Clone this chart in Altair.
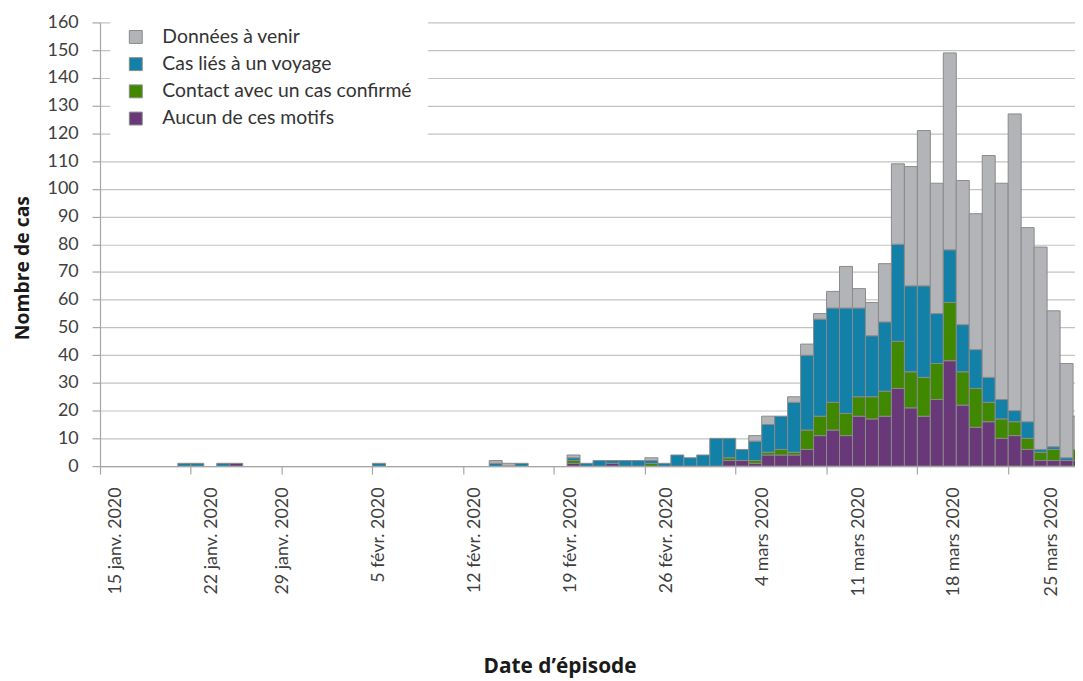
import altair as alt
import pandas as pd

# ---------------- data ----------------
START_DATE = "2020-01-15"
N_DAYS = 76

SERIES = ["Données à venir", "Cas liés à un voyage",
          "Contact avec un cas confirmé", "Aucun de ces motifs"]

AUCUN = [0, 0, 0, 0, 0, 0, 0, 0, 0, 0,
         1, 0, 0, 0, 0, 0, 0, 0, 0, 0,
         0, 0, 0, 0, 0, 0, 0, 0, 0, 0,
         0, 0, 0, 0, 0, 0, 1, 0, 0, 1,
         0, 0, 0, 0, 0, 0, 0, 0, 2, 2,
         1, 4, 4, 4, 6, 11, 13, 11, 18, 17,
         18, 28, 21, 18, 24, 38, 22, 14, 16, 10,
         11, 6, 2, 2, 2, 2]

CONTACT = [0, 0, 0, 0, 0, 0, 0, 0, 0, 0,
           0, 0, 0, 0, 0, 0, 0, 0, 0, 0,
           0, 0, 0, 0, 0, 0, 0, 0, 0, 0,
           0, 0, 0, 0, 0, 0, 1, 0, 0, 0,
           0, 0, 1, 0, 0, 0, 0, 0, 1, 0,
           1, 1, 2, 1, 7, 7, 10, 8, 7, 8,
           9, 17, 13, 14, 13, 21, 12, 14, 7, 7,
           5, 4, 3, 4, 0, 4]

VOYAGE = [0, 0, 0, 0, 0, 0, 1, 1, 0, 1,
          0, 0, 0, 0, 0, 0, 0, 0, 0, 0,
          0, 1, 0, 0, 0, 0, 0, 0, 0, 0,
          1, 0, 1, 0, 0, 0, 1, 1, 2, 1,
          2, 2, 1, 1, 4, 3, 4, 10, 7, 4,
          7, 10, 12, 18, 27, 35, 34, 38, 32, 22,
          25, 35, 31, 33, 18, 19, 17, 14, 9, 7,
          4, 6, 1, 1, 1, 0]

A_VENIR = [0, 0, 0, 0, 0, 0, 0, 0, 0, 0,
           0, 0, 0, 0, 0, 0, 0, 0, 0, 0,
           0, 0, 0, 0, 0, 0, 0, 0, 0, 0,
           1, 1, 0, 0, 0, 0, 1, 0, 0, 0,
           0, 0, 1, 0, 0, 0, 0, 0, 0, 0,
           2, 3, 0, 2, 4, 2, 6, 15, 7, 12,
           21, 29, 43, 56, 47, 71, 52, 49, 80, 78,
           107, 70, 73, 49, 34, 12]

TICK_DAYS = [0, 7, 14, 21, 28, 35, 42, 49, 56, 63, 70]
TICK_LABELS = ["15 janv. 2020", "22 janv. 2020", "29 janv. 2020",
               "5 févr. 2020", "12 févr. 2020", "19 févr. 2020",
               "26 févr. 2020", "4 mars 2020", "11 mars 2020",
               "18 mars 2020", "25 mars 2020"]

# ---------------- layout / style ----------------
COLORS = ["#b3b4b8", "#1380a8", "#3f8800", "#683878"]
STROKE = "#8a8a8a"
FONT = "Lato"
TITLE_FONT = "Open Sans"
# where the (independently placed) date labels sit, in day units
LABEL_POS = [1.22, 8.62, 14.1, 21.5, 28.87, 36.29, 43.66, 51.03, 58.45, 65.75, 73.32]

dates = pd.date_range(START_DATE, periods=N_DAYS, freq="D")
stack_lists = [AUCUN, CONTACT, VOYAGE, A_VENIR]
stack_names = [SERIES[3], SERIES[2], SERIES[1], SERIES[0]]
rows = []
for i in range(N_DAYS):
    for k, (name, vals) in enumerate(zip(stack_names, stack_lists)):
        if vals[i] > 0:
            rows.append({"date": dates[i].strftime("%Y-%m-%d"), "day": i,
                         "day_end": i + 1, "serie": name, "cas": vals[i], "ord": k})
df = pd.DataFrame(rows)

x_scale = alt.Scale(domain=[0, 75.15], nice=False, zero=False)

label_expr = ("[" + ",".join('"%s"' % t for t in TICK_LABELS) + "][indexof(["
              + ",".join(str(p) for p in LABEL_POS) + "], datum.value)]")

bars = alt.Chart(df).transform_stack(
    stack="cas", groupby=["day"], sort=[alt.SortField("ord", order="ascending")],
    as_=["y0", "y1"]
).mark_bar(stroke=STROKE, strokeWidth=1, clip=True).encode(
    x=alt.X("day:Q", scale=x_scale,
            axis=alt.Axis(orient="bottom", values=TICK_DAYS, labels=False, ticks=True,
                          tickSize=8, tickColor="#a6a6a6", tickWidth=1.2,
                          domain=True, domainColor="#a6a6a6", domainWidth=1.2,
                          grid=False, title=None)),
    x2="day_end:Q",
    y=alt.Y("y0:Q", scale=alt.Scale(domain=[0, 160], nice=False),
            axis=alt.Axis(values=list(range(0, 161, 10)), grid=True,
                          gridColor="#c3c3c3", gridWidth=1.2,
                          tickSize=8, tickColor="#a6a6a6", tickWidth=1.2,
                          domain=True, domainColor="#a6a6a6", domainWidth=1.2,
                          labelFont=FONT, labelFontSize=18, labelColor="#404040",
                          labelPadding=14,
                          title="Nombre de cas", titleFont=TITLE_FONT, titleFontSize=19.5,
                          titleFontWeight="bold", titleColor="#1a1a1a",
                          titleAngle=270, titleX=-78, titleY=247,
                          titleAlign="center", titleBaseline="middle")),
    y2="y1:Q",
    color=alt.Color("serie:N", scale=alt.Scale(domain=SERIES, range=COLORS),
                    legend=alt.Legend(title=None, orient="none", legendX=10.3, legendY=-11.1,
                                      fillColor="white", padding=16,
                                      symbolType="square", symbolSize=169,
                                      symbolStrokeColor=STROKE, symbolStrokeWidth=1,
                                      labelFont=FONT, labelFontSize=19.5, labelColor="#333333",
                                      labelOffset=17, labelLimit=400, rowPadding=6.4)),
)

date_labels = alt.Chart(df).mark_point(opacity=0).encode(
    x=alt.X("day:Q", scale=x_scale,
            axis=alt.Axis(orient="bottom", values=LABEL_POS, ticks=False, domain=False,
                          grid=False, labelExpr=label_expr, labelAngle=270,
                          labelPadding=21, labelFont=FONT, labelFontSize=18,
                          labelColor="#404040", labelLimit=300,
                          title="Date d’épisode", titleFont=TITLE_FONT, titleFontSize=21,
                          titleFontWeight="bold", titleColor="#1a1a1a",
                          titleX=463, titleY=208, titleAlign="center",
                          titleBaseline="alphabetic")),
)

chart = alt.layer(bars, date_labels).resolve_axis(x="independent").properties(
    width=982.3, height=447,
    autosize=alt.AutoSizeParams(type="none"),
    padding={"left": 92.7, "top": 12, "right": 0, "bottom": 214},
    background="white",
).configure_view(stroke=None)

chart.save("out.html", embed_options={"renderer": "svg", "actions": False})
